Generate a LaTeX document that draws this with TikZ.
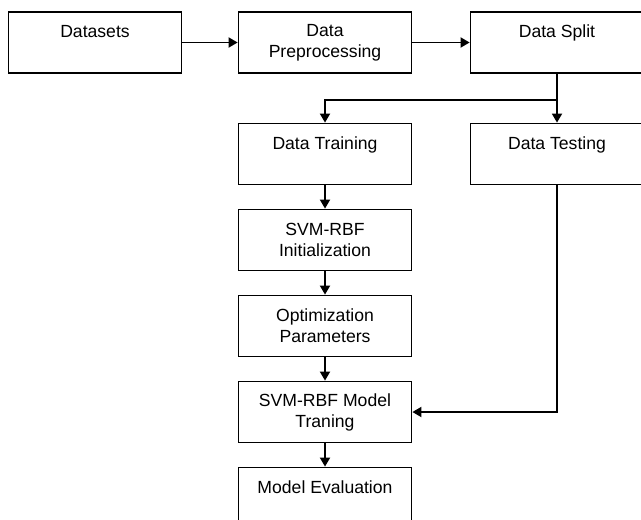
\documentclass[tikz,border=0pt]{standalone}
\usepackage{fontspec}
\setmainfont{Liberation Sans}
\usepackage{tikz}
\usetikzlibrary{arrows.meta,calc,positioning}
\tikzstyle{stage} = [rectangle, draw, line width=0.9pt, text centered, align=center, minimum width=86.5pt, minimum height=30.5pt, font=\fontsize{8.8}{10.5}\selectfont]
\tikzstyle{oneline} = [stage, text height=6.5pt, text depth=11pt]
\tikzstyle{connector} = [line width=0.9pt,-{Triangle[length=4.5pt,width=5pt]}]

\begin{document}
\begin{tikzpicture}[node distance = 43pt]
            \clip (-47.5pt,21.25pt) rectangle (273pt,-238.25pt);
            \node (datasets) [oneline] {Datasets};
            \node (preprocess) [stage,right of = datasets,xshift=72pt] {Data\\Preprocessing};
            \node (split) [oneline,right of = preprocess,xshift=73pt] {Data Split};
            \node (training) [oneline,below of = preprocess,yshift=-12.75pt] {Data Training};
            \node (testing) [oneline,below of = split,yshift=-12.75pt] {Data Testing};
            \node (init) [stage,below of = training] {SVM-RBF\\Initialization};
            \node (optim) [stage,below of = init] {Optimization\\Parameters};
            \node (modeltrain) [stage,below of = optim] {SVM-RBF Model\\Traning};
            \node (evaluation) [oneline,below of = modeltrain] {Model Evaluation};
            \coordinate (fork) at ($(split.south)+(0,-13pt)$);
            \draw [connector] (datasets) -- (preprocess);
            \draw [connector] (preprocess) -- (split);
            \draw [line width=0.9pt] (split.south) -- (fork);
            \draw [connector] (fork) -| (training.north);
            \draw [connector] (fork) -- (testing.north);
            \draw [connector] (training) -- (init);
            \draw [connector] (init) -- (optim);
            \draw [connector] (optim) -- (modeltrain);
            \draw [connector] (modeltrain) -- (evaluation);
            \draw [connector] (testing.south) |- (modeltrain.east);
        \end{tikzpicture}
\end{document}
